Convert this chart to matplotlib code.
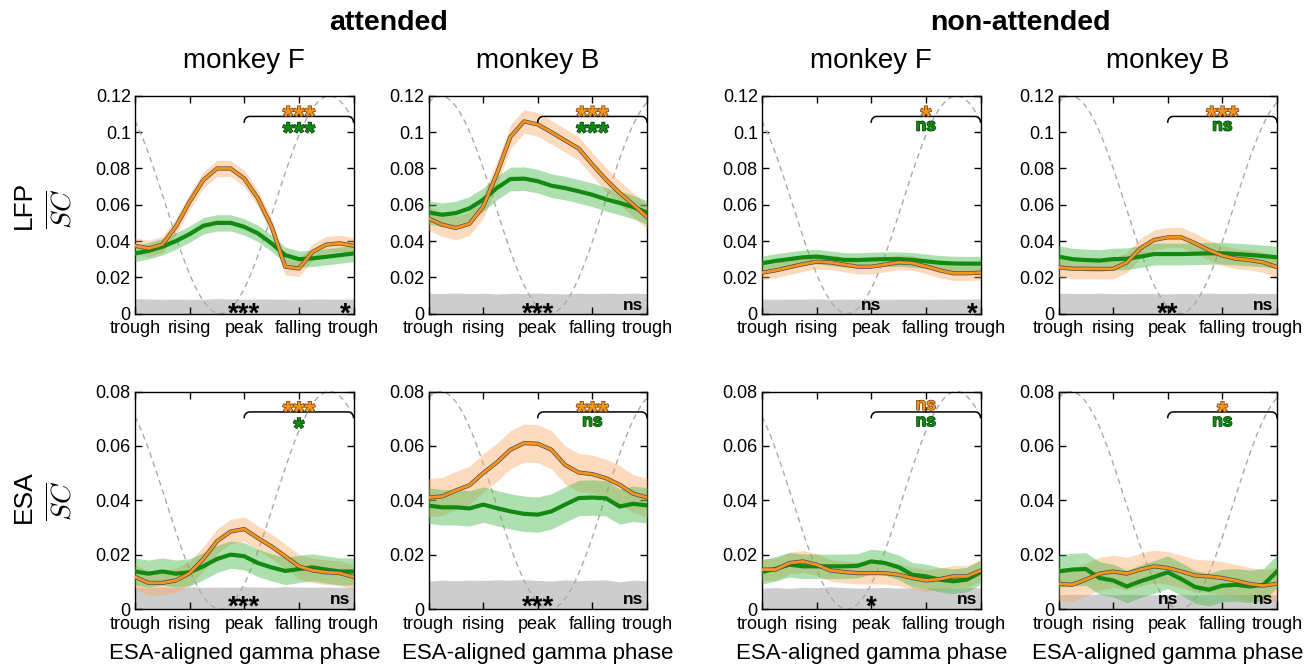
import numpy as np
import matplotlib
matplotlib.use('Agg')
import matplotlib.pyplot as plt
import matplotlib.patheffects as pe
import matplotlib.transforms as mtransforms

plt.rcParams['font.family'] = ['Liberation Sans', 'DejaVu Sans']
plt.rcParams['mathtext.fontset'] = 'cm'

# phase bins (trough -> trough)
phase = np.arange(17) / 16
phase_ticks = [0, 0.25, 0.5, 0.75, 1]
phase_labels = ['trough', 'rising', 'peak', 'falling', 'trough']

# LFP, attended, monkey F
lfp_att_F_orange = [0.0374, 0.0359, 0.0380, 0.0480, 0.0617, 0.0736, 0.0800, 0.0800, 0.0745,
                    0.0635, 0.0480, 0.0258, 0.0248, 0.0340, 0.0380, 0.0387, 0.0374]
lfp_att_F_green = [0.0331, 0.0346, 0.0368, 0.0400, 0.0438, 0.0484, 0.0500, 0.0500, 0.0478,
                   0.0442, 0.0387, 0.0322, 0.0300, 0.0304, 0.0313, 0.0322, 0.0331]
lfp_att_F_grey = [0.0082, 0.0080, 0.0078, 0.0080, 0.0078, 0.0079, 0.0082, 0.0080, 0.0079,
                  0.0080, 0.0080, 0.0079, 0.0078, 0.0080, 0.0080, 0.0079, 0.0080]
# LFP, attended, monkey B
lfp_att_B_orange = [0.0525, 0.0490, 0.0472, 0.0495, 0.0590, 0.0770, 0.0975, 0.1060, 0.1043,
                    0.1000, 0.0955, 0.0910, 0.0822, 0.0738, 0.0665, 0.0600, 0.0532]
lfp_att_B_green = [0.0557, 0.0545, 0.0554, 0.0580, 0.0628, 0.0692, 0.0742, 0.0744, 0.0730,
                   0.0705, 0.0692, 0.0674, 0.0655, 0.0630, 0.0610, 0.0587, 0.0557]
lfp_att_B_grey = [0.0112, 0.0110, 0.0113, 0.0110, 0.0112, 0.0108, 0.0112, 0.0110, 0.0112,
                  0.0110, 0.0108, 0.0112, 0.0110, 0.0112, 0.0111, 0.0112, 0.0110]
# LFP, non-attended, monkey F
lfp_non_F_orange = [0.0225, 0.0238, 0.0255, 0.0272, 0.0286, 0.0282, 0.0270, 0.0258, 0.0258,
                    0.0270, 0.0282, 0.0278, 0.0260, 0.0238, 0.0222, 0.0222, 0.0225]
lfp_non_F_green = [0.0277, 0.0290, 0.0300, 0.0310, 0.0314, 0.0305, 0.0296, 0.0295, 0.0298,
                   0.0300, 0.0300, 0.0296, 0.0288, 0.0280, 0.0276, 0.0275, 0.0275]
lfp_non_F_grey = [0.0080, 0.0078, 0.0080, 0.0079, 0.0081, 0.0078, 0.0080, 0.0079, 0.0080,
                  0.0078, 0.0079, 0.0080, 0.0078, 0.0080, 0.0079, 0.0080, 0.0080]
# LFP, non-attended, monkey B
lfp_non_B_orange = [0.0255, 0.0247, 0.0247, 0.0246, 0.0246, 0.0282, 0.0360, 0.0406, 0.0420,
                    0.0420, 0.0388, 0.0350, 0.0320, 0.0302, 0.0295, 0.0282, 0.0256]
lfp_non_B_green = [0.0314, 0.0300, 0.0295, 0.0292, 0.0300, 0.0302, 0.0314, 0.0328, 0.0328,
                   0.0328, 0.0330, 0.0332, 0.0332, 0.0328, 0.0323, 0.0317, 0.0310]
lfp_non_B_grey = [0.0112, 0.0111, 0.0110, 0.0112, 0.0110, 0.0109, 0.0111, 0.0110, 0.0108,
                  0.0111, 0.0110, 0.0112, 0.0111, 0.0110, 0.0112, 0.0110, 0.0111]
# ESA, attended, monkey F
esa_att_F_orange = [0.0118, 0.0096, 0.0096, 0.0105, 0.0132, 0.0184, 0.0249, 0.0285, 0.0294,
                    0.0261, 0.0230, 0.0194, 0.0157, 0.0142, 0.0135, 0.0132, 0.0118]
esa_att_F_green = [0.0138, 0.0130, 0.0138, 0.0130, 0.0135, 0.0157, 0.0184, 0.0200, 0.0194,
                   0.0169, 0.0153, 0.0140, 0.0147, 0.0153, 0.0145, 0.0138, 0.0138]
esa_att_F_grey = [0.0082, 0.0080, 0.0081, 0.0079, 0.0082, 0.0080, 0.0081, 0.0080, 0.0082,
                  0.0081, 0.0080, 0.0082, 0.0081, 0.0080, 0.0081, 0.0080, 0.0081]
# ESA, attended, monkey B
esa_att_B_orange = [0.0410, 0.0414, 0.0436, 0.0455, 0.0500, 0.0539, 0.0586, 0.0610, 0.0608,
                    0.0586, 0.0530, 0.0502, 0.0496, 0.0481, 0.0457, 0.0424, 0.0410]
esa_att_B_green = [0.0380, 0.0374, 0.0374, 0.0370, 0.0384, 0.0371, 0.0359, 0.0350, 0.0347,
                   0.0359, 0.0384, 0.0408, 0.0410, 0.0407, 0.0377, 0.0387, 0.0381]
esa_att_B_grey = [0.0103, 0.0106, 0.0104, 0.0106, 0.0105, 0.0107, 0.0106, 0.0108, 0.0105,
                  0.0103, 0.0107, 0.0104, 0.0106, 0.0107, 0.0100, 0.0106, 0.0104]
# ESA, non-attended, monkey F
esa_non_F_orange = [0.0145, 0.0145, 0.0169, 0.0175, 0.0163, 0.0142, 0.0136, 0.0132, 0.0132,
                    0.0132, 0.0126, 0.0114, 0.0105, 0.0110, 0.0120, 0.0120, 0.0141]
esa_non_F_green = [0.0136, 0.0148, 0.0163, 0.0157, 0.0157, 0.0157, 0.0157, 0.0159, 0.0175,
                   0.0169, 0.0154, 0.0126, 0.0120, 0.0108, 0.0102, 0.0108, 0.0135]
esa_non_F_grey = [0.0077, 0.0079, 0.0076, 0.0080, 0.0078, 0.0082, 0.0079, 0.0077, 0.0078,
                  0.0079, 0.0077, 0.0078, 0.0076, 0.0078, 0.0077, 0.0079, 0.0078]
# ESA, non-attended, monkey B
esa_non_B_orange = [0.0093, 0.0089, 0.0108, 0.0130, 0.0138, 0.0130, 0.0145, 0.0157, 0.0151,
                    0.0138, 0.0123, 0.0120, 0.0114, 0.0104, 0.0092, 0.0086, 0.0093]
esa_non_B_green = [0.0138, 0.0145, 0.0147, 0.0114, 0.0105, 0.0083, 0.0102, 0.0118, 0.0135,
                   0.0110, 0.0081, 0.0071, 0.0086, 0.0089, 0.0083, 0.0089, 0.0138]
esa_non_B_grey = [0.0052, 0.0054, 0.0053, 0.0055, 0.0052, 0.0054, 0.0053, 0.0052, 0.0054,
                  0.0053, 0.0052, 0.0054, 0.0053, 0.0052, 0.0054, 0.0053, 0.0052]

# shaded half widths (orange, green)
band_widths = [(0.0045, 0.0045), (0.0065, 0.0065), (0.0040, 0.0040), (0.0055, 0.0060),
               (0.0045, 0.0050), (0.0070, 0.0065), (0.0040, 0.0045), (0.0060, 0.0060)]
# significance labels: (orange, green) above the bracket, (peak, trough) at the bottom
top_labels = [('***', '***'), ('***', '***'), ('*', 'ns'), ('***', 'ns'),
              ('***', '*'), ('***', 'ns'), ('ns', 'ns'), ('*', 'ns')]
bottom_labels = [('***', '*'), ('***', 'ns'), ('ns', '*'), ('**', 'ns'),
                 ('***', 'ns'), ('***', 'ns'), ('*', 'ns'), ('ns', 'ns')]
# phase of the LFP gamma trough on the ESA-aligned axis, per monkey
lfp_trough = {'F': 0.39, 'B': 0.555}

orange_series = [lfp_att_F_orange, lfp_att_B_orange, lfp_non_F_orange, lfp_non_B_orange,
                 esa_att_F_orange, esa_att_B_orange, esa_non_F_orange, esa_non_B_orange]
green_series = [lfp_att_F_green, lfp_att_B_green, lfp_non_F_green, lfp_non_B_green,
                esa_att_F_green, esa_att_B_green, esa_non_F_green, esa_non_B_green]
grey_series = [lfp_att_F_grey, lfp_att_B_grey, lfp_non_F_grey, lfp_non_B_grey,
               esa_att_F_grey, esa_att_B_grey, esa_non_F_grey, esa_non_B_grey]
monkeys = ['F', 'B', 'F', 'B']
row_ylim = [0.12, 0.08]

ORANGE = '#F7941D'
GREEN = '#118A11'
STAR_SIZE = 20
NS_SIZE = 12.5

W, H = 1314, 667
fig = plt.figure(figsize=(W / 100, H / 100), dpi=100)

col_left = [135, 428.5, 762, 1058.5]
row_top = [96, 391.5]
ax_w, ax_h = 218.5, 217.5


def sig_text(ax, x, yfrac, s, color, edge=None, ha='center'):
    # place the label so that its ink is centred on yfrac (axes fraction)
    size = STAR_SIZE if '*' in s else NS_SIZE
    k = 0.56 if '*' in s else 0.265
    trans = mtransforms.blended_transform_factory(ax.transData, ax.transAxes)
    t = ax.annotate(s, xy=(x, yfrac), xycoords=trans, xytext=(0, -k * size),
                    textcoords='offset points', ha=ha, va='baseline',
                    fontsize=size, fontweight='bold', color=color, annotation_clip=False,
                    zorder=7)
    if edge is not None:
        t.set_path_effects([pe.withStroke(linewidth=1.0, foreground=edge)])
    return t


def bracket(ax, y_line, y_end, y_tick):
    trans = mtransforms.blended_transform_factory(ax.transData, ax.transAxes)
    r = 0.025
    a = np.linspace(0, np.pi / 2, 12)
    lx = 0.5 + r * (1 - np.cos(a))
    ly = y_end + (y_line - y_end) * np.sin(a)
    xs = np.concatenate([lx, (1 - (lx - 0.5))[::-1]])
    ys = np.concatenate([ly, ly[::-1]])
    ax.plot(xs, ys, color='black', lw=1.1, transform=trans, clip_on=False, zorder=6)
    ax.plot([0.75, 0.75], [y_line, y_tick], color='black', lw=1.1, transform=trans,
            clip_on=False, zorder=6)


xx = np.linspace(0, 1, 300)
for i in range(8):
    row, col = divmod(i, 4)
    ymax = row_ylim[row]
    left = col_left[col]
    top = row_top[row]
    ax = fig.add_axes([left / W, 1 - (top + ax_h) / H, ax_w / W, ax_h / H])

    # chance level
    ax.fill_between(phase, 0, grey_series[i], color='#cdcdcd', lw=0, zorder=1)
    # LFP gamma cycle for reference
    wave = ymax / 2 * (1 - np.cos(2 * np.pi * (xx - lfp_trough[monkeys[col]])))
    ax.plot(xx, wave, color='#aaaaaa', lw=1, ls=(0, (4, 3)), zorder=2)

    o = np.array(orange_series[i])
    g = np.array(green_series[i])
    wo, wg = band_widths[i]
    ax.fill_between(phase, o - wo, o + wo, color='#F9A35A', alpha=0.4, lw=0, zorder=3)
    ax.fill_between(phase, g - wg, g + wg, color='#4CB84C', alpha=0.45, lw=0, zorder=3)
    ax.plot(phase, g, color=GREEN, lw=3, zorder=4)
    ax.plot(phase, o, color=ORANGE, lw=2, zorder=5,
            path_effects=[pe.Stroke(linewidth=3.0, foreground='#4a4a4a'), pe.Normal()])

    ax.set_xlim(0, 1)
    ax.set_ylim(0, ymax)
    ax.set_xticks(phase_ticks)
    ax.set_xticklabels(phase_labels)
    yt = np.arange(0, ymax + 1e-9, 0.02)
    ax.set_yticks(yt)
    ax.set_yticklabels(['0' if v == 0 else f'{v:g}' for v in yt])
    ax.tick_params(direction='in', top=True, right=True, length=5, width=1,
                   labelsize=13, pad=3)
    ax.tick_params(axis='x', pad=5)
    for sp in ax.spines.values():
        sp.set_linewidth(1)

    bracket(ax, 0.906, 0.88, 0.925)
    to, tg = top_labels[i]
    sig_text(ax, 0.75, 0.937, to, ORANGE, edge='#6b3d10')
    sig_text(ax, 0.75, 0.862, tg, GREEN, edge='#063d06')

    bc, br = bottom_labels[i]
    yb = 0.035 if row == 0 else 0.045
    sig_text(ax, 0.5, yb, bc, 'black')
    sig_text(ax, 0.985, yb, br, 'black', ha='right')

    if row == 0:
        fig.text((left + ax_w / 2) / W, 1 - 61 / H, 'monkey ' + monkeys[col],
                 ha='center', va='center', fontsize=20)
    else:
        fig.text((left + ax_w / 2) / W, 1 - 654 / H, 'ESA-aligned gamma phase',
                 ha='center', va='center', fontsize=16)

fig.text(389 / W, 1 - 23 / H, 'attended', ha='center', va='center', fontsize=20.5,
         fontweight='bold')
fig.text(1020 / W, 1 - 23 / H, 'non-attended', ha='center', va='center', fontsize=20.5,
         fontweight='bold')

for name, yc in [('LFP', 205), ('ESA', 497)]:
    fig.text(24 / W, 1 - yc / H, name, rotation=90, ha='center', va='center', fontsize=19)
    fig.text(62 / W, 1 - (yc + 4) / H, r'$\overline{SC}$', rotation=90, ha='center',
             va='center', fontsize=20)

fig.savefig('out.png', dpi=100)
